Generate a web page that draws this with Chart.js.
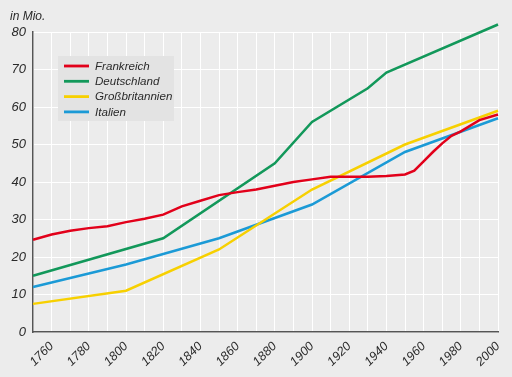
<!DOCTYPE html>
<html><head><meta charset="utf-8">
<script src="https://cdn.jsdelivr.net/npm/chart.js@4"></script>
<style>html,body{margin:0;padding:0;background:#ececec;}canvas{display:block;}</style>
</head><body>
<canvas id="c" width="512" height="377"></canvas>
<script>
const seriesNames = ['Frankreich','Deutschland','Großbritannien','Italien'];
const seriesColors = ['#e2001a','#12985a','#f7d000','#1b9ad6'];
const frYears = [1750,1760,1770,1780,1790,1800,1810,1820,1830,1840,1850,1860,1870,1880,1890,1900,1910,1920,1930,1940,1950,1955,1960,1965,1970,1975,1980,1990,2000];
const frValues = [24.6,26,27,27.7,28.2,29.3,30.2,31.3,33.5,35,36.5,37.3,38,39,40,40.7,41.4,41.4,41.4,41.6,42,43,45.5,48,50.3,52.3,53.5,56.5,58];
const deYears = [1750,1820,1880,1900,1930,1940,2000];
const deValues = [15,25,45,56,65,69.2,82];
const gbYears = [1750,1800,1850,1900,1950,2000];
const gbValues = [7.5,11,22,38,50,59];
const itYears = [1750,1800,1850,1900,1950,2000];
const itValues = [12,18,25,34,48,57];
const xTickLabels = [1760,1780,1800,1820,1840,1860,1880,1900,1920,1940,1960,1980,2000];
const yTicks = [0,10,20,30,40,50,60,70,80];
const unitLabel = 'in Mio.';

function pts(xs, ys){ return xs.map((x,i)=>({x:x,y:ys[i]})); }
const allYears = [frYears, deYears, gbYears, itYears];
const allValues = [frValues, deValues, gbValues, itValues];

const font = 'Liberation Sans, Arial, sans-serif';

const bgPlugin = {
  id:'bg',
  beforeDraw(chart){
    const ctx = chart.ctx;
    ctx.save();
    ctx.fillStyle = '#ececec';
    ctx.fillRect(0,0,chart.width,chart.height);
    ctx.restore();
  }
};
const legendPlugin = {
  id:'customLegend',
  afterDatasetsDraw(chart){
    const ctx = chart.ctx;
    ctx.save();
    ctx.fillStyle = '#e3e3e3';
    ctx.fillRect(58,56,116,65);
    ctx.font = 'italic 11.6px ' + font;
    ctx.textBaseline = 'middle';
    chart.data.datasets.forEach((ds,i)=>{
      const y = 66 + i*15.3;
      ctx.strokeStyle = ds.borderColor;
      ctx.lineWidth = 2.8;
      ctx.beginPath(); ctx.moveTo(64,y); ctx.lineTo(89,y); ctx.stroke();
      ctx.fillStyle = '#2a2a2a';
      ctx.fillText(ds.label, 95, y+0.5);
    });
    ctx.font = 'italic 12px ' + font;
    ctx.fillStyle = '#2a2a2a';
    ctx.textBaseline = 'middle';
    ctx.fillText(unitLabel, 10, 17);
    ctx.restore();
  }
};

new Chart(document.getElementById('c'), {
  type:'line',
  data:{
    datasets: seriesNames.map((n,i)=>({
      label:n,
      data:pts(allYears[i], allValues[i]),
      borderColor:seriesColors[i],
      backgroundColor:seriesColors[i],
      borderWidth:2.5,
      pointRadius:0,
      tension:0,
      clip:false
    }))
  },
  options:{
    responsive:false,
    devicePixelRatio:1,
    animation:false,
    layout:{padding:{top:32,right:14,left:0,bottom:0}},
    plugins:{legend:{display:false},tooltip:{enabled:false}},
    scales:{
      x:{
        type:'linear', min:1750, max:2000,
        afterFit(s){ s.height = 45; s.paddingRight = 0; s.paddingLeft = 0; },
        grid:{color:'#ffffff', lineWidth:1, drawTicks:false},
        border:{display:true,color:'#555555',width:1.5},
        ticks:{
          stepSize:10, autoSkip:false, maxRotation:45, minRotation:45, padding:7,
          color:'#2a2a2a', font:{family:font, size:12.5, style:'italic'},
          callback(v){ return xTickLabels.includes(v) ? String(v) : ''; }
        }
      },
      y:{
        min:0, max:80,
        afterFit(s){ s.width = 33; s.paddingTop = 0; s.paddingBottom = 0; },
        afterBuildTicks(s){ s.ticks = yTicks.map(v=>({value:v})); },
        grid:{color:'#ffffff', lineWidth:1, drawTicks:false},
        border:{display:true,color:'#555555',width:1.5},
        ticks:{
          padding:7, color:'#2a2a2a', font:{family:font, size:13, style:'italic'}
        }
      }
    }
  },
  plugins:[bgPlugin, legendPlugin]
});
</script>
</body></html>
